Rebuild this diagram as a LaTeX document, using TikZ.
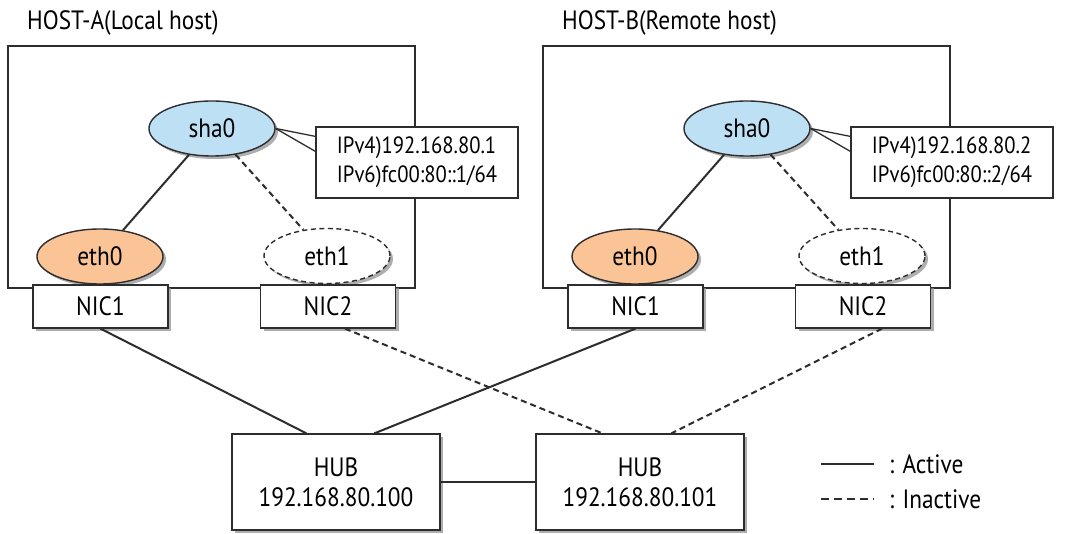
\documentclass[tikz,border=0pt]{standalone}
\usepackage{fontspec}
\setmainfont{PT Sans}[FakeStretch=0.88]
\usetikzlibrary{shapes.geometric,shadows,calc}
\definecolor{shablue}{RGB}{190,224,245}
\definecolor{ethorange}{RGB}{250,196,150}
\definecolor{ink}{RGB}{45,45,45}
\begin{document}
\begin{tikzpicture}[x=1pt,y=-1pt,
  font=\fontsize{26.5}{30}\selectfont,
  shad/.style={drop shadow={shadow xshift=3pt,shadow yshift=-3pt,fill=black!45,opacity=0.7}},
  hostbox/.style={draw=ink,line width=1.2pt,minimum width=407pt,minimum height=242pt,inner sep=0},
  ifbox/.style={draw=ink,line width=1.2pt,fill=white,minimum width=202pt,minimum height=71pt,align=left,inner sep=0,font=\fontsize{23.5}{29}\selectfont},
  nicbox/.style={draw=ink,line width=1.3pt,fill=white,minimum width=135pt,minimum height=43pt,inner sep=0,shad},
  hubbox/.style={draw=ink,line width=1.3pt,fill=white,minimum width=208pt,minimum height=96pt,inner sep=0,align=center,shad},
  ifell/.style={ellipse,draw=ink,line width=1.4pt,minimum width=126pt,minimum height=55pt,inner sep=0,shad},
  active/.style={draw=ink,line width=2pt},
  inactive/.style={draw=ink,line width=2pt,dash pattern=on 6pt off 4pt},
  title/.style={anchor=west,inner sep=0}
]
\useasboundingbox (0,0) rectangle (1069,534);
\fill[white] (0,0) rectangle (1069,534);

% hosts
\foreach \h/\dx/\n/\tt in {A/0/1/HOST-A(Local host),B/535/2/HOST-B(Remote host)}{
  \node[hostbox] (host\h) at (211.5+\dx,167) {};
  \node[title] (title\h) at (27+\dx,23) {\tt};
  \node[ifell,fill=shablue] (sha\h) at (212+\dx,128.5) {sha0};
  \node[ifell,fill=ethorange] (eth\h0) at (100+\dx,256.5) {eth0};
  \node[ifell,fill=white,dash pattern=on 5pt off 3.5pt] (eth\h1) at (327+\dx,256) {eth1};
  \node[nicbox] (nic\h1) at (100.5+\dx,306.5) {NIC1};
  \node[nicbox] (nic\h2) at (328+\dx,306.5) {NIC2};
  \node[ifbox] (info\h) at (417+\dx,162.5) {IPv4)192.168.80.\n\\IPv6)fc00:80::\n/64};
  \draw[active,line width=1.3pt] (sha\h.east) -- ($(info\h.north west)+(0,10)$);
  \draw[active,line width=1.3pt] (sha\h.east) -- ($(info\h.north west)+(0,25)$);
  \draw[active] (sha\h) -- (eth\h0);
  \draw[inactive] (sha\h) -- (eth\h1);
}

% hubs
\node[hubbox] (hub1) at (336,482) {HUB\\192.168.80.100};
\node[hubbox] (hub2) at (640,482) {HUB\\192.168.80.101};
\draw[active] (hub1) -- (hub2);

\draw[active] (nicA1.south) -- ($(hub1.north west)+(75,0)$);
\draw[active] (nicB1.south) -- ($(hub1.north west)+(143,0)$);
\draw[inactive] ($(nicA2.south)+(17,0)$) -- ($(hub2.north west)+(67,0)$);
\draw[inactive] ($(nicB2.south)+(19,0)$) -- ($(hub2.north west)+(136,0)$);

% legend
\coordinate (la1) at (821,464);
\coordinate (la2) at (874,464);
\coordinate (li1) at (821,499);
\coordinate (li2) at (874,499);
\draw[active,line width=2.5pt] (la1) -- (la2);
\draw[inactive,line width=2.5pt,dash pattern=on 8pt off 5pt] (li1) -- (li2);
\node[title] (lact) at (889,464) {: Active};
\node[title] (linact) at (889,499) {: Inactive};
\end{tikzpicture}
\end{document}
